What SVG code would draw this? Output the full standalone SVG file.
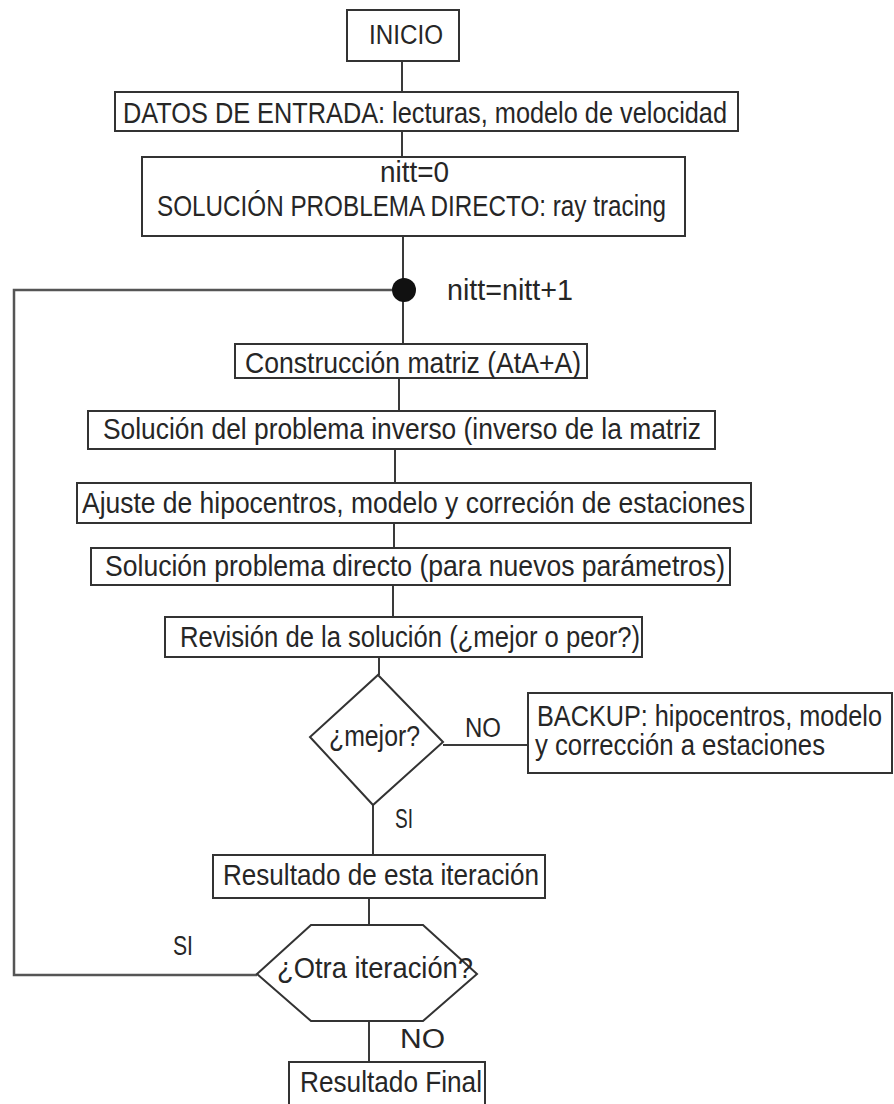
<svg xmlns="http://www.w3.org/2000/svg" width="894" height="1104" viewBox="0 0 894 1104">
<style>
  .box { fill: #ffffff; stroke: #333333; stroke-width: 2; }
  .ln { fill: none; stroke: #3a3a3a; stroke-width: 2; }
  .loop { fill: none; stroke: #555555; stroke-width: 2.5; }
  text { font-family: "Liberation Sans", Arial, sans-serif; font-size: 29px; fill: #262626; }
  .lbl { font-size: 27px; }
</style>
<rect width="894" height="1104" fill="#ffffff"/>
<g id="connectors">
  <line class="ln" x1="402" y1="61" x2="402" y2="92"/>
  <line class="ln" x1="402" y1="131" x2="402" y2="157"/>
  <line class="ln" x1="403" y1="236" x2="403" y2="344"/>
  <polyline class="loop" points="392,290 14,290 14,975 257,975"/>
  <line class="ln" x1="399" y1="378" x2="399" y2="411"/>
  <line class="ln" x1="395" y1="449" x2="395" y2="483"/>
  <line class="ln" x1="394" y1="523" x2="394" y2="548"/>
  <line class="ln" x1="393" y1="585" x2="393" y2="617"/>
  <line class="ln" x1="379" y1="657" x2="379" y2="675"/>
  <line class="ln" x1="443" y1="745" x2="528" y2="745"/>
  <line class="ln" x1="373" y1="805" x2="373" y2="855"/>
  <line class="ln" x1="369" y1="898" x2="369" y2="925"/>
  <line class="ln" x1="369" y1="1021" x2="369" y2="1062"/>
  <text class="lbl" x="465" y="737" textLength="36" lengthAdjust="spacingAndGlyphs">NO</text>
  <text class="lbl" x="395" y="828" textLength="18" lengthAdjust="spacingAndGlyphs">SI</text>
  <text class="lbl" x="173" y="955" textLength="20" lengthAdjust="spacingAndGlyphs">SI</text>
  <text class="lbl" x="400" y="1048" textLength="45" lengthAdjust="spacingAndGlyphs">NO</text>
</g>
<g id="inicio">
  <rect class="box" x="347" y="10" width="112" height="51"/>
  <text x="369" y="44" textLength="74" lengthAdjust="spacingAndGlyphs" style="font-size:27px">INICIO</text>
</g>
<g id="datos">
  <rect class="box" x="115" y="92" width="623" height="39"/>
  <text x="123" y="123" textLength="604" lengthAdjust="spacingAndGlyphs">DATOS DE ENTRADA: lecturas, modelo de velocidad</text>
</g>
<g id="directo0">
  <rect class="box" x="142" y="157" width="543" height="79"/>
  <text x="380" y="182" textLength="69" lengthAdjust="spacingAndGlyphs">nitt=0</text>
  <text x="157" y="216" textLength="509" lengthAdjust="spacingAndGlyphs">SOLUCIÓN PROBLEMA DIRECTO: ray tracing</text>
</g>
<g id="contador">
  <circle cx="404" cy="290" r="12" fill="#111111"/>
  <text x="447" y="300" textLength="126" lengthAdjust="spacingAndGlyphs">nitt=nitt+1</text>
</g>
<g id="construccion">
  <rect class="box" x="235" y="344" width="352" height="34"/>
  <text x="245" y="373" textLength="336" lengthAdjust="spacingAndGlyphs">Construcción matriz (AtA+A)</text>
</g>
<g id="inverso">
  <rect class="box" x="88" y="411" width="627" height="38"/>
  <text x="103" y="439" textLength="598" lengthAdjust="spacingAndGlyphs">Solución del problema inverso (inverso de la matriz</text>
</g>
<g id="ajuste">
  <rect class="box" x="77" y="483" width="674" height="40"/>
  <text x="82" y="513" textLength="663" lengthAdjust="spacingAndGlyphs">Ajuste de hipocentros, modelo y correción de estaciones</text>
</g>
<g id="directo">
  <rect class="box" x="91" y="548" width="639" height="37"/>
  <text x="105" y="576" textLength="620" lengthAdjust="spacingAndGlyphs">Solución problema directo (para nuevos parámetros)</text>
</g>
<g id="revision">
  <rect class="box" x="165" y="617" width="477" height="40"/>
  <text x="180" y="647" textLength="460" lengthAdjust="spacingAndGlyphs">Revisión de la solución (¿mejor o peor?)</text>
</g>
<g id="mejor">
  <polygon class="box" points="378,675 443,742 373,805 310,737"/>
  <text x="329" y="746" textLength="91" lengthAdjust="spacingAndGlyphs">¿mejor?</text>
</g>
<g id="backup">
  <rect class="box" x="528" y="693" width="364" height="80"/>
  <text x="537" y="726" textLength="345" lengthAdjust="spacingAndGlyphs">BACKUP: hipocentros, modelo</text>
  <text x="535" y="755" textLength="290" lengthAdjust="spacingAndGlyphs">y corrección a estaciones</text>
</g>
<g id="resultado">
  <rect class="box" x="213" y="855" width="332" height="43"/>
  <text x="223" y="885" textLength="316" lengthAdjust="spacingAndGlyphs">Resultado de esta iteración</text>
</g>
<g id="otra">
  <polygon class="box" points="257,974 311,925 423,925 477,974 423,1021 311,1021"/>
  <text x="277" y="978" textLength="196" lengthAdjust="spacingAndGlyphs">¿Otra iteración?</text>
</g>
<g id="final">
  <rect class="box" x="289" y="1062" width="196" height="50"/>
  <text x="300" y="1092" textLength="182" lengthAdjust="spacingAndGlyphs">Resultado Final</text>
</g>
</svg>
